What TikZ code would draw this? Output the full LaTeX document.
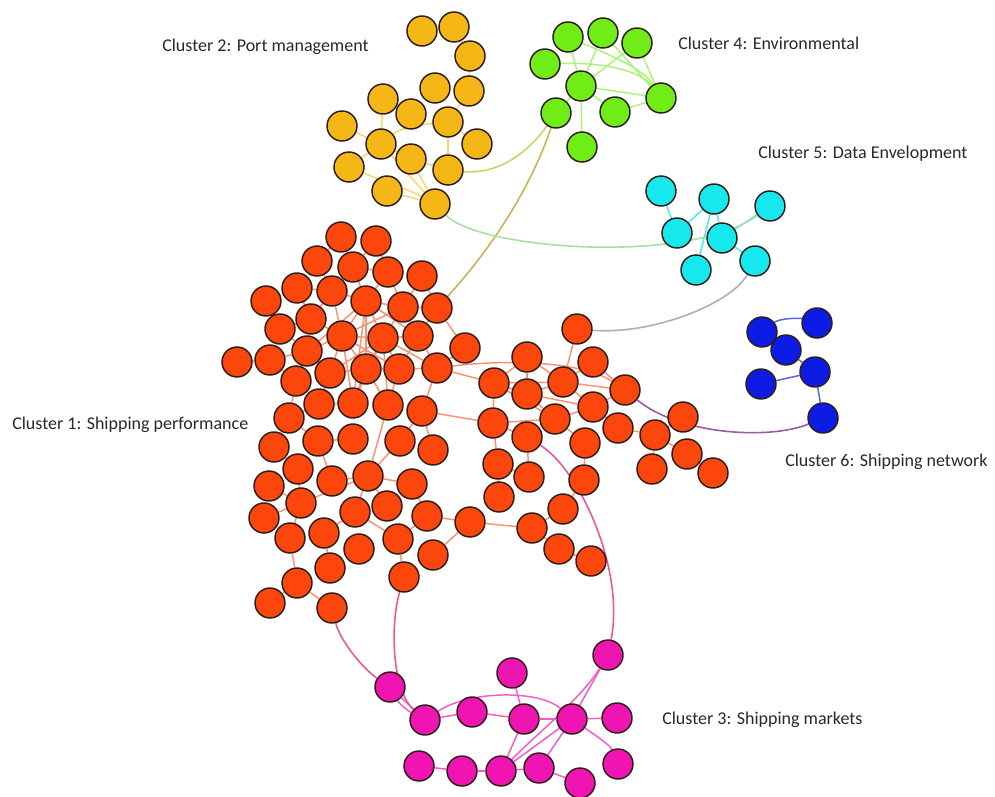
\documentclass[tikz,border=0pt]{standalone}
\usepackage{fontspec}
\setmainfont{Carlito}
\usetikzlibrary{backgrounds}
\definecolor{perfred}{RGB}{252,70,12}
\definecolor{portyel}{RGB}{245,183,22}
\definecolor{envgreen}{RGB}{112,236,22}
\definecolor{deacyan}{RGB}{22,232,238}
\definecolor{netblue}{RGB}{12,28,228}
\definecolor{mktpink}{RGB}{240,20,178}
\definecolor{rimdark}{RGB}{45,30,25}
\definecolor{labgrey}{RGB}{40,40,40}
\definecolor{linklime}{RGB}{195,215,100}
\definecolor{linkolive}{RGB}{200,180,90}
\definecolor{linkmint}{RGB}{165,225,160}
\definecolor{linkgrey}{RGB}{175,175,175}
\definecolor{linkplum}{RGB}{150,95,165}
\definecolor{linkrose}{RGB}{236,88,150}

\begin{document}
\begin{tikzpicture}[x=0.75pt,y=-0.75pt,font=\fontsize{13.5}{16}\selectfont,
    vert/.style={circle,draw=rimdark,line width=1.1pt,minimum size=22.5pt,inner sep=0pt},
    pnode/.style={vert,fill=perfred},
    ynode/.style={vert,fill=portyel},
    gnode/.style={vert,fill=envgreen},
    cnode/.style={vert,fill=deacyan},
    bnode/.style={vert,fill=netblue},
    mnode/.style={vert,fill=mktpink},
    pedge/.style={draw=perfred!60,line width=1.1pt},
    yedge/.style={draw=portyel!60,line width=1.1pt},
    gedge/.style={draw=envgreen!60,line width=1.1pt},
    cedge/.style={draw=deacyan!80,line width=1.1pt},
    bedge/.style={draw=netblue!70,line width=1.1pt},
    medge/.style={draw=mktpink!70,line width=1.1pt},
    xedge/.style={line width=1.2pt},
    lab/.style={anchor=west,inner sep=0pt,text=labgrey}]
  \useasboundingbox (0,0) rectangle (995,796);

  % cluster 1: shipping performance
  \foreach \n/\px/\py in {1/341/237,2/376/241,3/317/261,4/353/267,5/388/272,6/422/276,
      7/297/288,8/332/291,9/366/301,10/403/307,11/437/308,12/266/301,13/311/319,
      14/280/329,15/342/336,16/383/338,17/418/336,18/465/348,19/237/362,20/270/360,
      21/307/351,22/330/373,23/366/369,24/399/369,25/437/368,26/296/381,27/319/404,
      28/353/403,29/388/405,30/422/411,31/289/418,32/274/447,33/318/441,34/353/439,
      35/400/441,36/433/450,37/298/469,38/332/481,39/368/476,40/412/484,41/269/486,
      42/301/503,43/355/512,44/387/506,45/427/516,46/470/522,47/264/518,48/290/538,
      49/324/533,50/359/549,51/398/539,52/433/555,53/330/568,54/404/577,55/297/583,
      56/270/603,57/332/608,58/577/329,59/527/357,60/593/362,61/494/383,62/563/382,
      63/625/390,64/527/394,65/593/407,66/555/419,67/493/423,68/618/428,69/683/417,
      70/527/437,71/655/435,72/585/443,73/687/454,74/498/464,75/529/477,76/652/469,
      77/713/473,78/584/480,79/499/497,80/563/509,81/532/528,82/559/549,83/591/561}
    \node[pnode] (o\n) at (\px,\py) {};

  % cluster 2: port management
  \foreach \n/\px/\py in {1/422/31,2/454/27,3/470/56,4/435/88,5/469/91,6/383/99,
      7/411/114,8/448/122,9/342/126,10/477/144,11/381/144,12/411/159,13/349/167,
      14/448/170,15/387/191,16/435/204}
    \node[ynode] (y\n) at (\px,\py) {};

  % cluster 4: environmental
  \foreach \n/\px/\py in {1/568/37,2/603/33,3/637/43,4/545/64,5/581/86,6/661/98,
      7/556/113,8/615/112,9/582/147}
    \node[gnode] (g\n) at (\px,\py) {};

  % cluster 5: data envelopment
  \foreach \n/\px/\py in {1/661/191,2/714/199,3/770/206,4/677/233,5/722/238,
      6/696/270,7/755/261}
    \node[cnode] (c\n) at (\px,\py) {};

  % cluster 6: shipping network
  \foreach \n/\px/\py in {1/762/332,2/817/323,3/786/350,4/815/372,5/761/384,6/823/418}
    \node[bnode] (b\n) at (\px,\py) {};

  % cluster 3: shipping markets
  \foreach \n/\px/\py in {1/608/655,2/512/673,3/390/687,4/425/720,5/472/712,6/524/719,
      7/572/719,8/617/718,9/419/766,10/462/771,11/501/771,12/539/768,13/618/764,
      14/580/783}
    \node[mnode] (m\n) at (\px,\py) {};

  % edges behind the vertices
  \begin{scope}[on background layer]
    \foreach \a/\b in {1/3,1/4,2/4,2/5,3/8,4/8,4/9,4/5,5/9,5/10,6/10,6/11,7/8,7/13,
        8/9,8/13,8/15,9/10,9/15,9/16,9/17,9/21,9/23,10/11,10/15,10/16,10/17,11/17,
        11/18,12/14,13/14,13/15,13/21,14/21,15/16,15/21,15/22,15/23,15/24,15/28,
        16/17,16/23,16/24,16/25,16/29,17/25,17/24,19/20,20/21,20/26,21/22,21/26,
        22/23,22/27,23/24,23/28,23/29,24/25,24/29,25/30,25/18,16/28,9/28,16/22,
        25/61,30/67,26/31,27/28,27/31,31/33,33/34,33/38,32/37,29/39,35/39,35/30,
        38/39,39/40,39/43,39/44,40/45,45/51,43/51,42/39,42/47,37/42,42/48,48/55,
        55/56,55/57,43/49,45/46,46/52,51/54,31/32,36/30,49/53,41/42,46/81,
        58/62,59/61,59/62,59/64,60/62,60/63,61/62,61/64,61/67,62/63,62/64,62/65,
        63/65,64/65,64/66,61/66,67/66,65/66,65/68,66/72,68/71,71/69,71/73,73/77,
        71/76,72/78,67/70,67/74,70/75,74/75,74/79,78/80,80/81,81/82,82/83}
      \draw[pedge] (o\a) -- (o\b);
    \draw[pedge] (o25) .. controls (500,360) and (580,360) .. (o63);
    \foreach \a/\b in {9/11,8/5,8/10,8/14,11/12,13/11,11/16,12/14,15/16,2/3,3/5,
        12/16,6/11}
      \draw[yedge] (y\a) -- (y\b);
    \draw[yedge] (y11) .. controls (400,128) and (425,124) .. (y8);
    \draw[yedge] (y13) .. controls (380,180) and (410,190) .. (y16);
    \foreach \a/\b in {1/5,2/5,2/6,3/6,5/6,5/8,8/6,5/7,5/9,5/3}
      \draw[gedge] (g\a) -- (g\b);
    \draw[gedge] (g4) .. controls (600,62) and (640,70) .. (g6);
    \draw[gedge] (g1) .. controls (610,55) and (645,70) .. (g6);
    \foreach \a/\b in {1/4,2/4,2/6,2/5,5/7,5/3}
      \draw[cedge] (c\a) -- (c\b);
    \foreach \a/\b in {1/3,3/4,5/4,4/6}
      \draw[bedge] (b\a) -- (b\b);
    \draw[bedge] (b1) .. controls (780,318) and (800,318) .. (b2);
    \foreach \a/\b in {3/4,4/5,5/6,2/6,6/7,7/8,1/7,7/11,6/11,9/10,10/11,11/12,
        12/14,7/12}
      \draw[medge] (m\a) -- (m\b);
    \draw[medge] (m4) .. controls (470,690) and (540,690) .. (m7);
    \draw[medge] (m7) .. controls (595,735) and (610,745) .. (m13);
    \draw[medge] (m1) .. controls (580,700) and (530,740) .. (m11);
    \draw[medge] (m3) .. controls (400,705) and (410,712) .. (m4);
    % links between clusters
    \draw[xedge,linklime] (y14) .. controls (500,175) and (530,150) .. (g7);
    \draw[xedge,linkolive] (o11) .. controls (490,250) and (530,190) .. (g7);
    \draw[xedge,linkmint] (y16) .. controls (480,250) and (690,265) .. (c3);
    \draw[xedge,linkgrey] (c7) .. controls (730,305) and (650,335) .. (o58);
    \draw[xedge,linkplum] (o63) .. controls (680,435) and (770,440) .. (b6);
    \draw[xedge,linkrose] (o70) .. controls (580,470) and (625,570) .. (m1);
    \draw[xedge,linkrose] (o54) .. controls (390,625) and (392,690) .. (m4);
    \draw[xedge,linkrose] (o57) .. controls (340,640) and (362,668) .. (m3);
  \end{scope}

  \node[lab] (lab1) at (12,425) {Cluster 1: Shipping performance};
  \node[lab] (lab2) at (162,47) {Cluster 2: Port management};
  \node[lab] (lab3) at (662,720) {Cluster 3: Shipping markets};
  \node[lab] (lab4) at (678,43) {Cluster 4: Environmental};
  \node[lab] (lab5) at (758,154) {Cluster 5: Data Envelopment};
  \node[lab] (lab6) at (785,462) {Cluster 6: Shipping network};
\end{tikzpicture}
\end{document}
